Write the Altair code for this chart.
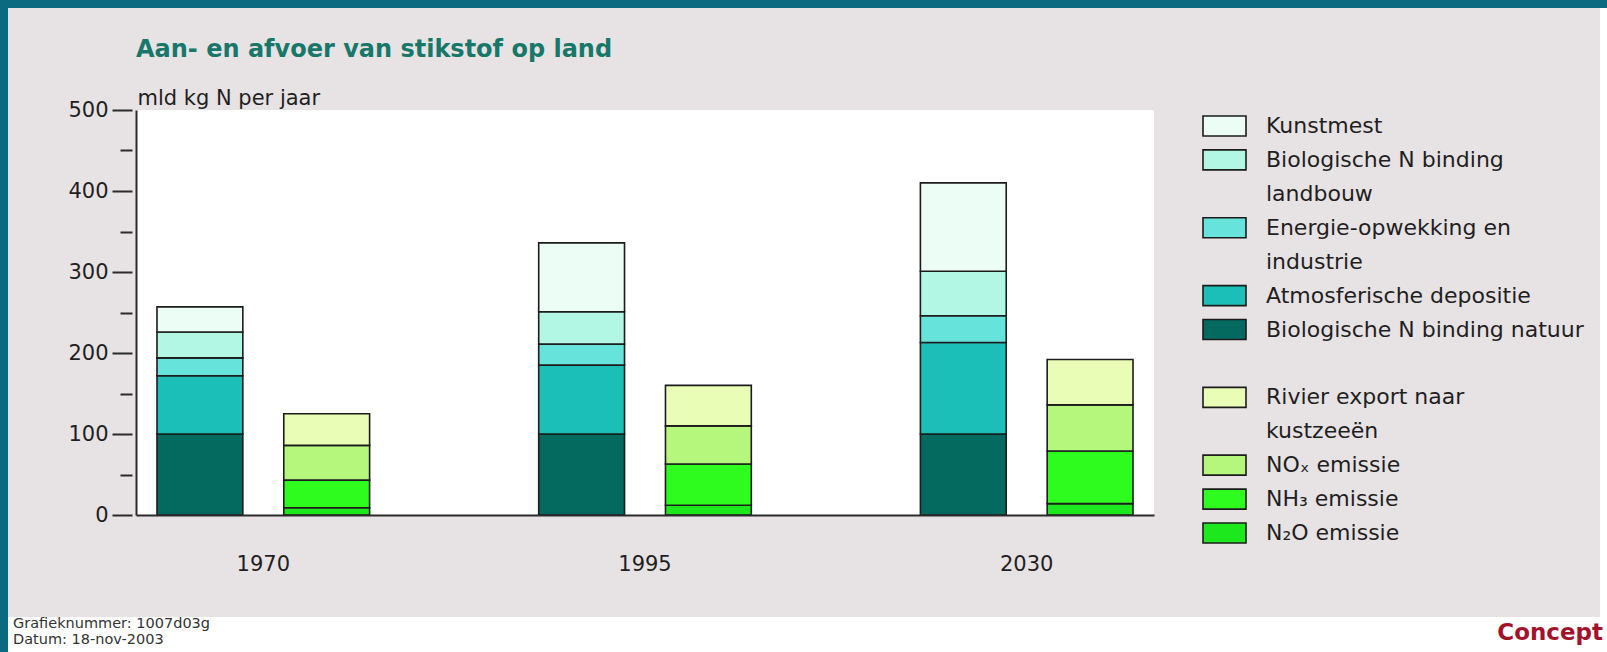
import altair as alt
import pandas as pd

# ---------------- data ----------------
YEARS = ["1970", "1995", "2030"]
SIDES = ["aanvoer", "afvoer"]

# supply (aanvoer), stacked bottom -> top
SUPPLY_CATEGORIES = [
    "Biologische N binding natuur",
    "Atmosferische depositie",
    "Energie-opwekking en industrie",
    "Biologische N binding landbouw",
    "Kunstmest",
]
NATUUR = [100, 100, 100]
DEPOSITIE = [72, 85, 113]
ENERGIE = [22, 26, 33]
LANDBOUW = [32, 40, 55]
KUNSTMEST = [31, 85, 109]

# removal (afvoer), stacked bottom -> top
REMOVAL_CATEGORIES = [
    "N₂O emissie",
    "NH₃ emissie",
    "NOₓ emissie",
    "Rivier export naar kustzeeën",
]
N2O = [9, 12, 14]
NH3 = [34, 51, 65]
NOX = [43, 47, 57]
RIVIER = [39, 50, 56]

SUPPLY_COLORS = ["#04695f", "#1bbfb8", "#66e3da", "#b2f7e3", "#ebfdf4"]
REMOVAL_COLORS = ["#1de81d", "#2efc1e", "#b4f77c", "#eafdb6"]

LEGEND_WRAP = {
    "Biologische N binding landbouw": ["Biologische N binding", "landbouw"],
    "Energie-opwekking en industrie": ["Energie-opwekking en", "industrie"],
    "Rivier export naar kustzeeën": ["Rivier export naar", "kustzeeën"],
}

Y_TICKS = [0, 100, 200, 300, 400, 500]
Y_MINOR = [50, 150, 250, 350, 450]

TITLE = "Aan- en afvoer van stikstof op land"
Y_TITLE = "mld kg N per jaar"
FOOTER = ["Grafieknummer: 1007d03g", "Datum: 18-nov-2003"]
STAMP = "Concept"

# ---------------- styling ----------------
FONT = "DejaVu Sans"
TEAL = "#0b6a80"
GREY = "#e7e2e4"
TITLE_COLOR = "#17786a"
TXT = "#1f1f1f"
AX = "#2b2b2b"
EDGE = "#1c1c1c"

W, H = 1018, 405
PAD = {"left": 136, "top": 110, "right": 453, "bottom": 137}

# ---------------- tables ----------------
rows = []
for k, (cat, vals) in enumerate(zip(SUPPLY_CATEGORIES, [NATUUR, DEPOSITIE, ENERGIE, LANDBOUW, KUNSTMEST])):
    for yr, v in zip(YEARS, vals):
        rows.append(dict(year=yr, side=SIDES[0], category=cat, value=v, order=k))
for k, (cat, vals) in enumerate(zip(REMOVAL_CATEGORIES, [N2O, NH3, NOX, RIVIER])):
    for yr, v in zip(YEARS, vals):
        rows.append(dict(year=yr, side=SIDES[1], category=cat, value=v, order=k))
bars_df = pd.DataFrame(rows)

legend_rows = []
line = 0
for g, group in enumerate([SUPPLY_CATEGORIES[::-1], REMOVAL_CATEGORIES[::-1]]):
    if g:
        line += 1  # blank line between the two groups
    for cat in group:
        for j, t in enumerate(LEGEND_WRAP.get(cat, [cat])):
            legend_rows.append(dict(category=cat, text=t, line=line, first=(j == 0)))
            line += 1
legend_df = pd.DataFrame(legend_rows)
n_lines = line - 1

# ---------------- scales / axes ----------------
color_scale = alt.Scale(domain=SUPPLY_CATEGORIES + REMOVAL_CATEGORIES,
                        range=SUPPLY_COLORS + REMOVAL_COLORS)
y_scale = alt.Scale(domain=[0, 500], nice=False)
legend_y = alt.Scale(domain=[0, n_lines], range=[16, 423], nice=False, zero=False)

x_axis = alt.Axis(orient="bottom", domain=True, domainWidth=2, domainColor=AX,
                  ticks=False, grid=False, labelAngle=0, labelFont=FONT,
                  labelFontSize=21, labelColor=TXT, labelPadding=38, zindex=1)
major_axis = alt.Axis(orient="left", values=Y_TICKS, tickSize=20, tickWidth=2,
                      tickColor=AX, domain=False, grid=False, offset=4,
                      labelFont=FONT, labelFontSize=21, labelColor=TXT,
                      labelPadding=4, title=Y_TITLE, titleAngle=0,
                      titleAlign="left", titleBaseline="alphabetic",
                      titleX=5, titleY=-6, titleFont=FONT, titleFontSize=21,
                      titleFontWeight="normal", titleColor=TXT, zindex=1)
minor_axis = alt.Axis(orient="left", values=Y_MINOR, tickSize=12, tickWidth=2,
                      tickColor=AX, domain=False, grid=False, offset=4,
                      labels=False, title=None, zindex=1)
domain_axis = alt.Axis(orient="left", domain=True, domainWidth=2, domainColor=AX,
                       ticks=False, labels=False, grid=False, offset=0, title=None,
                       zindex=1)

# ---------------- decorations ----------------
one = alt.Data(values=[{"k": 0}])


def box(x1, x2, y1, y2, color):
    return alt.Chart(one).mark_rect(color=color).encode(
        x=alt.value(x1), x2=alt.value(x2), y=alt.value(y1), y2=alt.value(y2))


bg_white = box(-128, 1471, -102, 542, "#ffffff")
bg_grey = box(-128, 1464, -102, 507, GREY)
plot_bg = box(0, W, 0, H, "#ffffff")

# ---------------- bars ----------------
base = alt.Chart(bars_df)
bars = base.transform_stack(
    stack="value", as_=["y0", "y1"], groupby=["year", "side"],
    sort=[alt.SortField("order", order="ascending")],
).mark_bar(stroke=EDGE, strokeWidth=1.6, opacity=1).encode(
    x=alt.X("year:N", title=None,
            scale=alt.Scale(domain=YEARS, paddingInner=0.443, paddingOuter=0.055),
            axis=x_axis),
    xOffset=alt.XOffset("side:N",
                        scale=alt.Scale(domain=SIDES, paddingInner=0.323, paddingOuter=0)),
    y=alt.Y("y0:Q", scale=y_scale, axis=major_axis),
    y2="y1:Q",
    color=alt.Color("category:N", scale=color_scale, legend=None),
    tooltip=["year:N", "category:N", "value:Q"],
)
minor = base.mark_point(opacity=0).encode(
    y=alt.Y("value:Q", scale=y_scale, axis=minor_axis))
ydom = base.mark_point(opacity=0).encode(
    y=alt.Y("value:Q", scale=y_scale, axis=domain_axis))

bars_group = alt.layer(bars, minor, ydom).resolve_axis(y="independent")

# ---------------- legend ----------------
SWATCH = "M-1,-0.465L1,-0.465L1,0.465L-1,0.465Z"
legend_sym = alt.Chart(legend_df).transform_filter("datum.first").mark_point(
    shape=SWATCH, size=1849, filled=True, stroke=EDGE, strokeWidth=1.6, opacity=1
).encode(
    x=alt.value(1088.5),
    y=alt.Y("line:Q", scale=legend_y, axis=None),
    color=alt.Color("category:N", scale=color_scale, legend=None),
)
legend_txt = alt.Chart(legend_df).mark_text(
    align="left", baseline="middle", font=FONT, fontSize=22, color=TXT
).encode(
    x=alt.value(1130),
    y=alt.Y("line:Q", scale=legend_y, axis=None),
    text="text:N",
)
legend_group = alt.layer(legend_sym, legend_txt)

# ---------------- footer ----------------
foot1 = alt.Chart(one).mark_text(align="left", baseline="middle", font=FONT,
                                 fontSize=14.5, color="#333333").encode(
    x=alt.value(-123), y=alt.value(514), text=alt.value(FOOTER[0]))
foot2 = alt.Chart(one).mark_text(align="left", baseline="middle", font=FONT,
                                 fontSize=14.5, color="#333333").encode(
    x=alt.value(-123), y=alt.value(530), text=alt.value(FOOTER[1]))
stamp = alt.Chart(one).mark_text(align="right", baseline="middle", font=FONT,
                                 fontSize=23, fontWeight="bold", color="#a3122a").encode(
    x=alt.value(1467), y=alt.value(523), text=alt.value(STAMP))

chart = alt.layer(
    bg_white, bg_grey, plot_bg, bars_group, legend_group, foot1, foot2, stamp
).resolve_scale(y="independent").properties(
    width=W, height=H, padding=PAD,
    autosize=alt.AutoSizeParams(type="none"),
    background=TEAL,
    title=alt.TitleParams(text=TITLE, anchor="start", frame="group", font=FONT,
                          fontWeight="bold", fontSize=24, color=TITLE_COLOR,
                          offset=-54),
).configure_view(stroke=None)

chart.save("out.html", embed_options={"renderer": "svg", "actions": False})
